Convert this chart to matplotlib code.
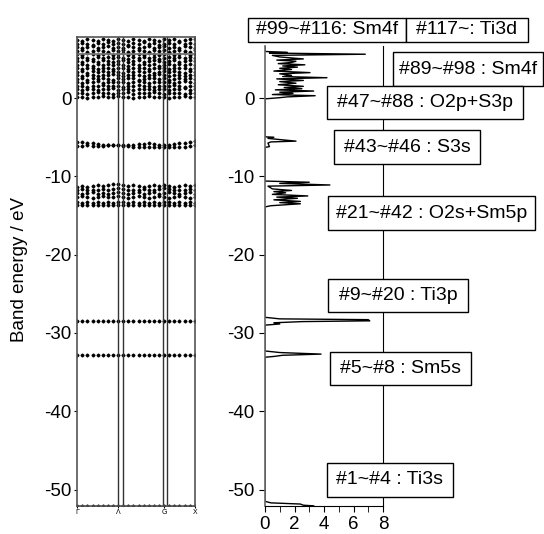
import matplotlib.pyplot as plt
from matplotlib.patches import Rectangle

plt.rcParams['font.family'] = ['Liberation Sans', 'DejaVu Sans']
plt.rcParams['axes.unicode_minus'] = False

# band structure: 24 k-points along the path
k_pos = list(range(24))
k_ticks = [0, 8, 17, 23]
k_labels = ['Γ', 'Λ', 'G', 'X']
k_lines = [7.9, 8.9, 16.7, 17.6]
fermi_line = 5.6

core_levels = [-52.15, -32.8, -28.5]   # Ti3s, Sm5s, Ti3p (flat)

s3s_bands = [
    [-5.6, -5.65, -5.7, -5.8, -5.9, -5.95, -6.0, -6.05, -6.05, -6.05, -6.0, -5.95,
     -5.9, -5.85, -5.8, -5.85, -5.95, -6.05, -6.0, -5.9, -5.8, -5.7, -5.6, -5.5],
    [-6.1, -6.1, -6.05, -6.1, -6.15, -6.1, -6.05, -6.05, -6.05, -6.1, -6.15, -6.2,
     -6.2, -6.25, -6.3, -6.3, -6.3, -6.25, -6.3, -6.3, -6.25, -6.2, -6.1, -6.0],
]

o2s_bands = [
    [-11.3, -11.2, -11.3, -11.2, -11.1, -11.2, -11.1, -11.0, -11.0, -11.1, -11.2, -11.1,
     -11.2, -11.3, -11.2, -11.1, -11.2, -11.1, -11.2, -11.3, -11.2, -11.1, -11.2, -11.1],
    [-11.7, -11.6, -11.7, -11.8, -11.7, -11.6, -11.7, -11.6, -11.5, -11.6, -11.7, -11.8,
     -11.7, -11.6, -11.7, -11.8, -11.6, -11.5, -11.6, -11.7, -11.8, -11.7, -11.6, -11.7],
    [-12.1, -12.2, -12.1, -12.0, -12.2, -12.1, -12.2, -12.1, -12.0, -12.1, -12.2, -12.1,
     -12.0, -12.2, -12.1, -12.0, -12.2, -12.1, -12.0, -12.1, -12.2, -12.1, -12.0, -12.2],
    [-12.6, -12.5, -12.6, -12.7, -12.6, -12.5, -12.6, -12.6, -12.5, -12.6, -12.7, -12.6,
     -12.5, -12.6, -12.7, -12.6, -12.5, -12.6, -12.7, -12.6, -12.5, -12.6, -12.7, -12.6],
    [-13.3, -13.4, -13.3, -13.4, -13.3, -13.4, -13.3, -13.4, -13.3, -13.3, -13.4, -13.3,
     -13.4, -13.3, -13.4, -13.3, -13.4, -13.3, -13.3, -13.4, -13.3, -13.4, -13.3, -13.4],
    [-13.7, -13.6, -13.7, -13.6, -13.7, -13.6, -13.7, -13.6, -13.7, -13.7, -13.6, -13.7,
     -13.6, -13.7, -13.6, -13.7, -13.6, -13.7, -13.7, -13.6, -13.7, -13.6, -13.7, -13.6],
]

val_bands = [
    [0.2, 0.1, 0.0, 0.1, 0.2, 0.3, 0.2, 0.1, 0.3, 0.2, 0.1, 0.0, 0.1, 0.2, 0.3, 0.2, 0.1, 0.2, 0.0, 0.1, 0.2, 0.3, 0.1, 0.2],
    [0.6, 0.7, 0.5, 0.6, 0.8, 0.7, 0.6, 0.5, 0.7, 0.6, 0.8, 0.5, 0.6, 0.7, 0.6, 0.8, 0.7, 0.5, 0.6, 0.7, 0.6, 0.5, 0.7, 0.6],
    [1.1, 1.0, 1.2, 1.1, 1.0, 1.2, 1.1, 1.3, 1.0, 1.1, 1.2, 1.0, 1.1, 1.2, 1.1, 1.0, 1.2, 1.1, 1.0, 1.2, 1.1, 1.3, 1.0, 1.1],
    [1.5, 1.6, 1.4, 1.6, 1.5, 1.7, 1.5, 1.6, 1.5, 1.4, 1.6, 1.5, 1.7, 1.5, 1.6, 1.4, 1.5, 1.6, 1.5, 1.7, 1.5, 1.4, 1.6, 1.5],
    [2.0, 1.9, 2.1, 2.0, 2.2, 1.9, 2.0, 2.1, 2.0, 2.1, 1.9, 2.0, 2.2, 2.0, 1.9, 2.1, 2.0, 2.0, 2.1, 1.9, 2.0, 2.2, 2.0, 1.9],
    [2.4, 2.5, 2.3, 2.5, 2.4, 2.6, 2.4, 2.3, 2.5, 2.4, 2.6, 2.5, 2.3, 2.4, 2.6, 2.5, 2.4, 2.5, 2.3, 2.4, 2.5, 2.4, 2.6, 2.4],
    [2.9, 2.8, 3.0, 2.9, 2.8, 3.0, 2.9, 3.1, 2.9, 2.8, 2.9, 3.0, 2.9, 2.8, 3.0, 2.9, 3.1, 2.9, 2.8, 3.0, 2.9, 2.8, 3.0, 2.9],
    [3.3, 3.4, 3.2, 3.4, 3.3, 3.5, 3.3, 3.4, 3.3, 3.2, 3.4, 3.3, 3.5, 3.3, 3.4, 3.2, 3.3, 3.4, 3.3, 3.5, 3.3, 3.2, 3.4, 3.3],
    [3.8, 3.7, 3.9, 3.8, 3.7, 3.9, 3.8, 3.7, 3.8, 3.9, 3.7, 3.8, 3.9, 3.8, 3.7, 3.9, 3.8, 3.8, 3.7, 3.9, 3.8, 3.9, 3.7, 3.8],
    [4.2, 4.3, 4.2, 4.1, 4.3, 4.2, 4.4, 4.2, 4.3, 4.2, 4.1, 4.3, 4.2, 4.4, 4.2, 4.3, 4.1, 4.2, 4.3, 4.2, 4.4, 4.2, 4.3, 4.2],
    [4.7, 4.6, 4.8, 4.7, 4.6, 4.8, 4.7, 4.6, 4.7, 4.8, 4.6, 4.7, 4.8, 4.6, 4.7, 4.8, 4.7, 4.6, 4.7, 4.8, 4.6, 4.7, 4.8, 4.7],
    [5.1, 5.2, 5.1, 5.0, 5.2, 5.1, 5.3, 5.1, 5.2, 5.1, 5.0, 5.2, 5.1, 5.3, 5.1, 5.2, 5.0, 5.1, 5.2, 5.1, 5.3, 5.1, 5.2, 5.1],
    [5.6, 5.5, 5.7, 5.6, 5.5, 5.6, 5.7, 5.5, 5.6, 5.7, 5.5, 5.6, 5.6, 5.5, 5.7, 5.6, 5.5, 5.6, 5.7, 5.5, 5.6, 5.7, 5.5, 5.6],
    [6.0, 6.1, 5.9, 6.0, 6.1, 6.0, 5.9, 6.1, 6.0, 6.1, 5.9, 6.0, 6.1, 6.0, 5.9, 6.1, 6.0, 6.1, 5.9, 6.0, 6.1, 6.0, 5.9, 6.1],
    [6.5, 6.4, 6.5, 6.6, 6.4, 6.5, 6.6, 6.4, 6.5, 6.4, 6.6, 6.5, 6.4, 6.5, 6.6, 6.4, 6.5, 6.6, 6.4, 6.5, 6.4, 6.6, 6.5, 6.4],
    [6.9, 7.0, 6.9, 6.8, 7.0, 6.9, 7.1, 6.9, 7.0, 6.9, 6.8, 7.0, 6.9, 7.1, 6.9, 7.0, 6.8, 6.9, 7.0, 6.9, 7.1, 6.9, 7.0, 6.9],
    [7.4, 7.3, 7.5, 7.4, 7.3, 7.5, 7.4, 7.3, 7.6, 7.4, 7.3, 7.5, 7.4, 7.3, 7.5, 7.4, 7.3, 7.6, 7.4, 7.5, 7.3, 7.4, 7.6, 7.5],
]

# density of states (energy, dos)
dos_energy = [6.65, 5.95, 5.85, 5.75, 5.6, 5.45, 5.25, 5.0, 4.85, 4.7, 4.55, 4.4, 4.25, 4.1,
              3.95, 3.8, 3.65, 3.45, 3.25, 3.1, 2.9, 2.75, 2.6, 2.45, 2.25, 2.1, 1.9, 1.7,
              1.5, 1.35, 1.2, 1.05, 0.9, 0.75, 0.6, 0.45, 0.3, 0.15, 0.05, -0.1,
              -4.95, -5.0, -5.15, -5.3, -5.5, -5.6, -5.75, -6.2, -6.3,
              -10.6, -10.75, -10.9, -11.1, -11.25, -11.6, -11.8, -11.95, -12.1, -12.3,
              -12.5, -12.65, -12.8, -13.0, -13.2, -13.35, -13.5, -13.75, -13.9,
              -28.0, -28.2, -28.3, -28.45, -28.55, -28.7, -28.85, -29.0,
              -32.3, -32.5, -32.7, -32.85, -33.0, -33.1,
              -51.5, -51.7, -51.85, -52.0, -52.08]
dos_value = [0.0, 0.0, 1.5, 0.3, 6.8, 0.5, 1.0, 2.6, 0.8, 2.1, 1.8, 0.9, 2.7, 1.2,
             2.2, 1.0, 1.8, 0.6, 3.05, 1.0, 1.8, 1.2, 4.2, 0.8, 2.6, 1.0, 2.1, 0.9,
             2.6, 1.3, 2.5, 0.7, 3.3, 1.0, 1.9, 0.5, 3.4, 1.5, 1.0, 0.0,
             0.0, 0.6, 0.2, 1.0, 2.1, 0.4, 0.2, 0.3, 0.0,
             0.0, 3.0, 1.0, 4.4, 0.2, 0.5, 1.8, 0.6, 1.4, 0.5,
             2.9, 0.8, 2.2, 0.6, 2.4, 1.0, 2.4, 0.4, 0.0,
             0.0, 1.0, 7.0, 7.1, 2.5, 0.6, 1.0, 0.0,
             0.0, 1.0, 3.8, 1.2, 0.6, 0.0,
             0.0, 0.4, 2.4, 2.6, 3.3]

box_labels = ['#99~#116: Sm4f', '#117~: Ti3d', '#89~#98 : Sm4f', '#47~#88 : O2p+S3p',
              '#43~#46 : S3s', '#21~#42 : O2s+Sm5p', '#9~#20 : Ti3p', '#5~#8 : Sm5s',
              '#1~#4 : Ti3s']
# box extents in pixels: x0, x1, y0, y1 (from top)
box_px = [(248, 406, 18, 42), (406, 528, 18, 42), (393, 543, 52, 86), (327, 523, 86, 119),
          (334, 480, 130, 164), (328, 535, 196, 230), (328, 468, 279, 312),
          (330, 471, 352, 385), (327, 453, 463, 497)]

W, H = 544, 534
fig = plt.figure(figsize=(W / 100, H / 100), dpi=100)


def px_axes(x0, y0, x1, y1):
    return fig.add_axes([x0 / W, 1 - y1 / H, (x1 - x0) / W, (y1 - y0) / H])


# left: band structure
ax1 = px_axes(77, 37, 195, 506)
for lev in core_levels:
    ax1.plot(k_pos, [lev] * len(k_pos), ls='none', marker='D', ms=1.5, color='black')
for band in s3s_bands + o2s_bands + val_bands:
    ax1.plot(k_pos, band, ls='none', marker='D', ms=1.5, color='black')
for kx in k_lines:
    ax1.axvline(kx, color='#333333', lw=1.0)
ax1.axhline(fermi_line, color='#777777', lw=1.3)
ax1.set_xlim(-0.05, 23.05)
ax1.set_ylim(-52.1, 7.8)
ax1.set_xticks(k_ticks)
ax1.set_xticklabels(k_labels, fontsize=5)
ax1.set_yticks([0, -10, -20, -30, -40, -50])
ax1.tick_params(axis='y', direction='out', length=2, labelsize=13.5, pad=2)
ax1.tick_params(axis='x', direction='out', length=1.5, pad=1)
for s in ax1.spines.values():
    s.set_color('#555555')
    s.set_linewidth(1.2)

fig.text(20 / W, 1 - 270 / H, 'Band energy / eV', rotation=90, ha='center', va='center',
         fontsize=13.5)

# right: DOS
ax2 = px_axes(265, 46, 383, 506)
ax2.plot(dos_value, dos_energy, color='black', lw=1.0)
ax2.set_xlim(0, 8)
ax2.set_ylim(-52.1, 6.65)
ax2.set_xticks([0, 2, 4, 6, 8])
ax2.set_xticks([1, 3, 5, 7], minor=True)
ax2.set_yticks([0, -10, -20, -30, -40, -50])
ax2.tick_params(axis='both', which='major', direction='out', length=4, labelsize=13.5)
ax2.tick_params(axis='x', which='minor', direction='out', length=4)
ax2.spines['top'].set_visible(False)
ax2.spines['left'].set_color('#666666')
ax2.spines['left'].set_linewidth(1.2)
ax2.spines['right'].set_color('black')
ax2.spines['bottom'].set_color('black')

for label, (x0, x1, y0, y1) in zip(box_labels, box_px):
    fig.add_artist(Rectangle((x0 / W, 1 - y1 / H), (x1 - x0) / W, (y1 - y0) / H,
                             transform=fig.transFigure, facecolor='white',
                             edgecolor='black', lw=1.0, zorder=10))
    fig.text((x0 + x1) / 2 / W, 1 - (y0 + y1) / 2 / H, label, ha='center', va='center',
             fontsize=14, zorder=11)

fig.savefig('out.png', dpi=100)
